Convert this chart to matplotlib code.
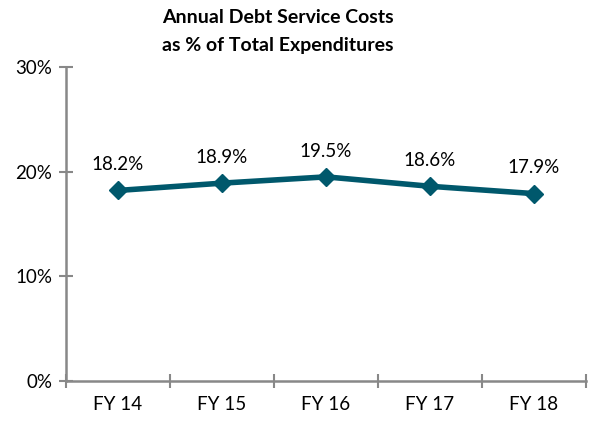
import matplotlib
matplotlib.use("Agg")
import matplotlib.pyplot as plt
import numpy as np

categories = ["FY 14", "FY 15", "FY 16", "FY 17", "FY 18"]
values = [18.2, 18.9, 19.5, 18.6, 17.9]
y_ticks = [0, 10, 20, 30]

plt.rcParams["font.family"] = ["Lato", "DejaVu Sans"]

fig = plt.figure(figsize=(5.89, 4.21), dpi=100)
ax = fig.add_axes([0.112, 0.095, 0.883, 0.746])

x = np.arange(len(categories))
line_color = "#00586C"
ax.plot(x, values, color=line_color, lw=4, marker="D", ms=9, zorder=3)

for xi, v in zip(x, values):
    ax.annotate(f"{v:.1f}%", (xi, v), xytext=(0, 12.5), textcoords="offset points",
                ha="center", va="bottom", fontsize=13.5, color="black")

ax.set_xlim(-0.5, len(categories) - 0.5)
ax.set_ylim(0, 30)
ax.set_yticks(y_ticks)
ax.set_yticklabels([f"{t}%" for t in y_ticks])

# category labels centered, tick marks on category boundaries
ax.set_xticks(x)
ax.set_xticklabels(categories)
ax.set_xticks(np.arange(-0.5, len(categories)), minor=True)
ax.tick_params(axis="x", which="major", length=0, pad=11, labelsize=13.5)
ax.tick_params(axis="x", which="minor", direction="inout", length=10, width=1.5, color="#888888")
ax.tick_params(axis="y", direction="inout", length=10, width=1.5, color="#888888",
               labelsize=13.5, pad=5)

for s in ["top", "right"]:
    ax.spines[s].set_visible(False)
for s in ["left", "bottom"]:
    ax.spines[s].set_color("#888888")
    ax.spines[s].set_linewidth(1.8)

fig.text(0.472, 0.958, "Annual Debt Service Costs", ha="center", va="center",
         fontsize=14, fontweight="bold")
fig.text(0.472, 0.893, "as % of Total Expenditures", ha="center", va="center",
         fontsize=14, fontweight="bold")

fig.savefig("out.png", dpi=100)
